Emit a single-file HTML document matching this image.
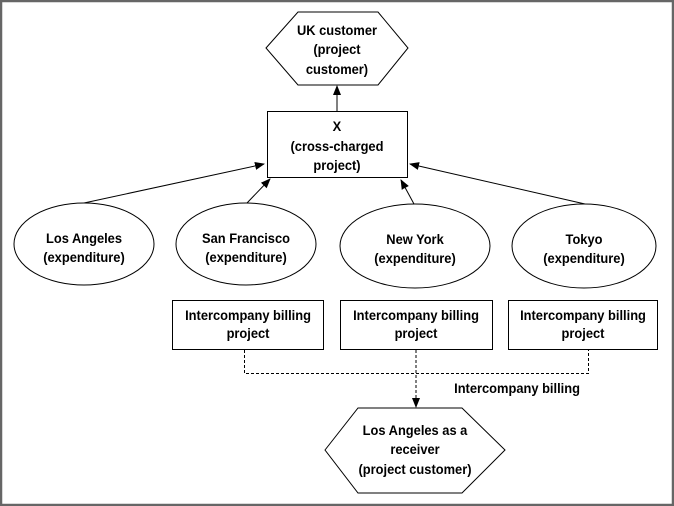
<!DOCTYPE html>
<html><head><style>
body{margin:0;background:#fff}
svg{display:block}
text{font-family:"Liberation Sans",Arial,sans-serif;font-size:14px;font-weight:bold;fill:#000;text-anchor:middle}
</style></head><body>
<svg width="674" height="506" viewBox="0 0 674 506">
<defs>
<marker id="a" markerWidth="10" markerHeight="10" refX="9" refY="5" orient="auto" markerUnits="userSpaceOnUse">
<path d="M0,1 L10,5 L0,9 z" fill="#000"/></marker>
</defs>
<rect x="1" y="1" width="672" height="504" fill="#fff" stroke="#666" stroke-width="2.5"/>
<polygon points="266,48 298,12 378,12 408,48 378,85 298,85" fill="#fff" stroke="#000" stroke-width="1"/>
<line x1="337" y1="111" x2="337" y2="86" stroke="#000" marker-end="url(#a)"/>
<rect x="267.5" y="111.5" width="140" height="66" fill="#fff" stroke="#000"/>
<ellipse cx="84" cy="244" rx="70" ry="41" fill="#fff" stroke="#000"/>
<ellipse cx="246" cy="244" rx="70" ry="41" fill="#fff" stroke="#000"/>
<ellipse cx="415" cy="246" rx="75" ry="42" fill="#fff" stroke="#000"/>
<ellipse cx="584" cy="246" rx="72" ry="42" fill="#fff" stroke="#000"/>
<line x1="84" y1="203" x2="264" y2="164" stroke="#000" marker-end="url(#a)"/>
<line x1="247" y1="203" x2="270" y2="179" stroke="#000" marker-end="url(#a)"/>
<line x1="414" y1="204" x2="401" y2="180" stroke="#000" marker-end="url(#a)"/>
<line x1="585" y1="204" x2="410" y2="164" stroke="#000" marker-end="url(#a)"/>
<rect x="172.5" y="300.5" width="151" height="49" fill="#fff" stroke="#000"/>
<rect x="340.5" y="300.5" width="152" height="49" fill="#fff" stroke="#000"/>
<rect x="508.5" y="300.5" width="149" height="49" fill="#fff" stroke="#000"/>
<polyline points="244.5,350 244.5,373.5 588.5,373.5 588.5,350" fill="none" stroke="#000" stroke-dasharray="3,2"/>
<line x1="416" y1="350" x2="416" y2="407" stroke="#000" stroke-dasharray="3,2" marker-end="url(#a)"/>
<polygon points="325,450 358,408 462,408 505,450 462,493 358,493" fill="#fff" stroke="#000"/>
<g transform="scale(0.92,1)">
<text x="366.3" y="35">UK customer</text>
<text x="366.3" y="54">(project</text>
<text x="366.3" y="74">customer)</text>
<text x="366.3" y="131">X</text>
<text x="366.3" y="151">(cross-charged</text>
<text x="366.3" y="170">project)</text>
<text x="91.3" y="243">Los Angeles</text><text x="91.3" y="262">(expenditure)</text>
<text x="267.4" y="243">San Francisco</text><text x="267.4" y="262">(expenditure)</text>
<text x="451.1" y="244">New York</text><text x="451.1" y="263">(expenditure)</text>
<text x="634.8" y="244">Tokyo</text><text x="634.8" y="263">(expenditure)</text>
<text x="269.6" y="320">Intercompany billing</text><text x="269.6" y="338">project</text>
<text x="452.2" y="320">Intercompany billing</text><text x="452.2" y="338">project</text>
<text x="633.7" y="320">Intercompany billing</text><text x="633.7" y="338">project</text>
<text x="562" y="393">Intercompany billing</text>
<text x="451.1" y="435">Los Angeles as a</text>
<text x="451.1" y="454">receiver</text>
<text x="451.1" y="474">(project customer)</text>
</g>
</svg>
</body></html>
